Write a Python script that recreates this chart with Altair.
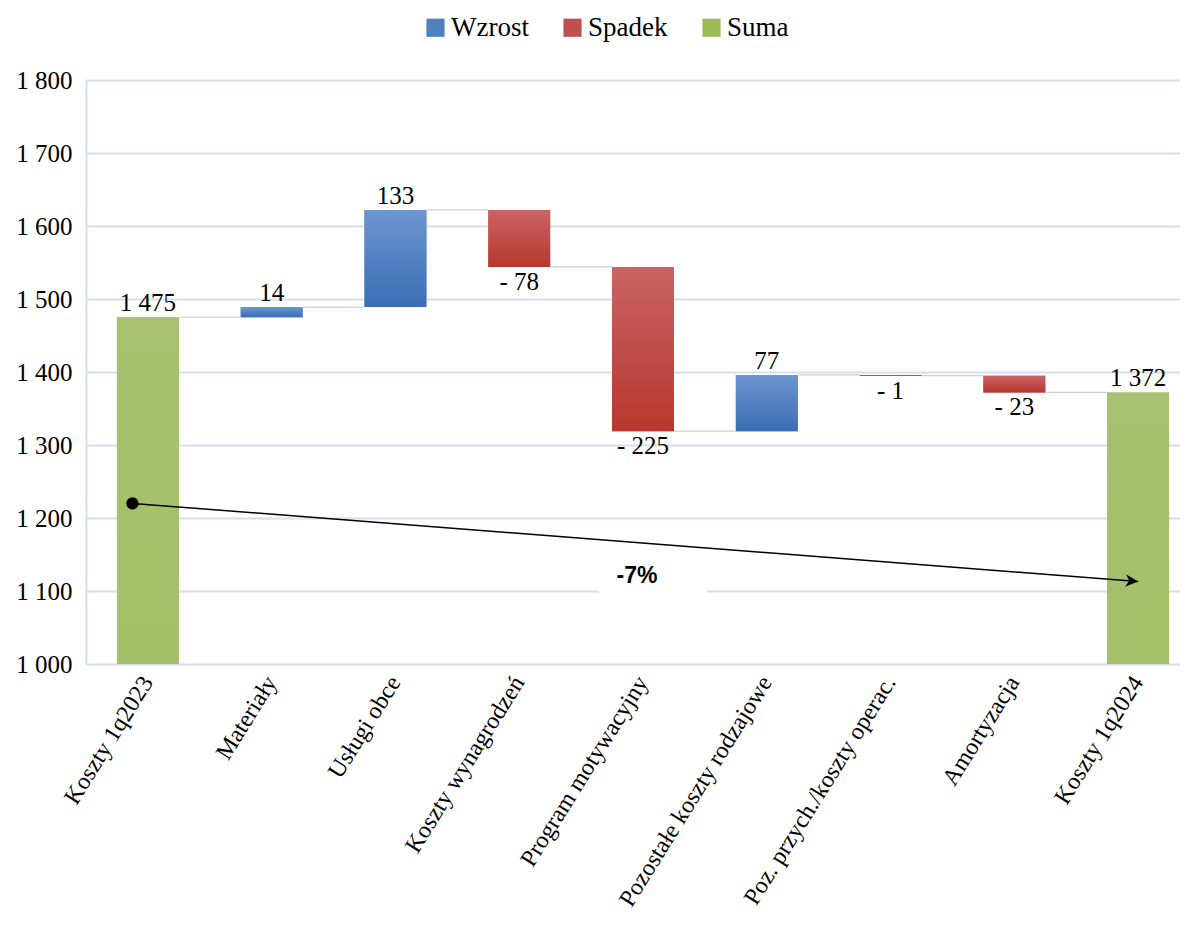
import altair as alt
import pandas as pd

# ---------------- data ----------------
categories = ["Koszty 1q2023", "Materiały", "Usługi obce", "Koszty wynagrodzeń",
              "Program motywacyjny", "Pozostałe koszty rodzajowe",
              "Poz. przych./koszty operac.", "Amortyzacja", "Koszty 1q2024"]
kinds = ["Suma", "Wzrost", "Wzrost", "Spadek", "Spadek", "Wzrost", "Spadek", "Spadek", "Suma"]
values = [1475, 14, 133, -78, -225, 77, -1, -23, 1372]

legend_order = ["Wzrost", "Spadek", "Suma"]
legend_colors = ["#4f81bd", "#c0504d", "#9bbb59"]
y_ticks = [1000, 1100, 1200, 1300, 1400, 1500, 1600, 1700, 1800]

arrow_from = 1220
arrow_to = 1113
change_label = "-7%"
label_box = [1095, 1145]
label_cat = "Program motywacyjny"

# ---------------- derived table ----------------
rows = []
running = 0
for c, k, v in zip(categories, kinds, values):
    if k == "Suma":
        start, end = 0, v
        running = v
    else:
        start, end = running, running + v
        running = end
    txt = f"{abs(v):,}".replace(",", " ")
    if v < 0:
        txt = "- " + txt
    rows.append(dict(cat=c, kind=k, start=start, end=end,
                     lo=min(start, end), hi=max(start, end),
                     label=txt, up=v >= 0))
df = pd.DataFrame(rows)

conn = pd.DataFrame([
    dict(cat=categories[i], cat_next=categories[i + 1], level=rows[i]["end"])
    for i in range(len(categories) - 1)
])
arrow = pd.DataFrame([dict(cat=categories[0], cat_next=categories[-1],
                           y=arrow_from, y2=arrow_to)])
arrow_end = pd.DataFrame([dict(cat=categories[-1], y=arrow_to)])
arrow_start = pd.DataFrame([dict(cat=categories[0], y=arrow_from)])
note = pd.DataFrame([dict(cat=label_cat, y=label_box[0], y2=label_box[1],
                          ym=(label_box[0] + label_box[1]) / 2, text=change_label)])

SERIF = "Liberation Serif"
GRID = "#d5e0ef"

xscale = alt.Scale(domain=categories, range=[0, 1114], paddingInner=0.5, paddingOuter=0.25)
yscale = alt.Scale(domain=[1000, 1800], nice=False, zero=False)

xaxis = alt.Axis(title=None, labelAngle=-58, labelAlign="right", labelBaseline="middle",
                 labelFont=SERIF, labelFontSize=24, labelColor="black", labelPadding=14,
                 labelLimit=500, domain=False, ticks=False, grid=False)
yaxis = alt.Axis(title=None, values=y_ticks,
                 labelExpr="replace(format(datum.value, ','), ',', ' ')",
                 labelFont=SERIF, labelFontSize=25, labelColor="black", labelPadding=14,
                 ticks=False, domain=True, domainColor=GRID, domainWidth=2,
                 grid=True, gridColor=GRID, gridWidth=2)

X = alt.X("cat:N", scale=xscale, axis=xaxis, sort=categories)


def grad(top, bottom):
    return alt.Gradient(gradient="linear", x1=0, x2=0, y1=0, y2=1,
                        stops=[alt.GradientStop(color=top, offset=0),
                               alt.GradientStop(color=bottom, offset=1)])


gradients = {
    "Wzrost": grad("#6d96cf", "#3a6db4"),
    "Spadek": grad("#c96464", "#b7372f"),
    "Suma": grad("#a8c070", "#9bc052"),
}

base = alt.Chart(df)

legend_bars = base.mark_bar(clip=True).encode(
    x=X,
    y=alt.Y("start:Q", scale=yscale, axis=yaxis),
    y2="end:Q",
    color=alt.Color("kind:N", scale=alt.Scale(domain=legend_order, range=legend_colors),
                    legend=alt.Legend(title=None, orient="none", direction="horizontal",
                                      legendX=336, legendY=-66, symbolType="square",
                                      symbolSize=330, symbolStrokeWidth=0,
                                      labelFont=SERIF, labelFontSize=27, labelColor="black",
                                      labelOffset=2, columnPadding=30)),
)

grad_layers = [
    base.transform_filter(alt.datum.kind == k).mark_bar(clip=True, fill=gradients[k]).encode(
        x=X, y=alt.Y("start:Q", scale=yscale), y2="end:Q")
    for k in legend_order
]

connectors = alt.Chart(conn).mark_rule(color="#cfcfcf", strokeWidth=1.2).encode(
    x=alt.X("cat:N", scale=xscale, bandPosition=1),
    x2=alt.X2("cat_next:N", bandPosition=0),
    y=alt.Y("level:Q", scale=yscale),
)

labels_up = base.transform_filter(alt.datum.up).mark_text(
    font=SERIF, fontSize=25, color="black", baseline="bottom", dy=-1).encode(
    x=X, y=alt.Y("hi:Q", scale=yscale), text="label:N")

labels_down = base.transform_filter(~alt.datum.up).mark_text(
    font=SERIF, fontSize=25, color="black", baseline="top", dy=3).encode(
    x=X, y=alt.Y("lo:Q", scale=yscale), text="label:N")

arrow_line = alt.Chart(arrow).mark_rule(color="black", strokeWidth=1.5).encode(
    x=alt.X("cat:N", scale=xscale, bandPosition=0.25),
    x2=alt.X2("cat_next:N", bandPosition=0.5),
    y=alt.Y("y:Q", scale=yscale),
    y2="y2:Q",
)

arrow_head = alt.Chart(arrow_end).mark_point(
    shape="M0,0L-1,-0.5L-0.7,0L-1,0.5Z", filled=True, color="black",
    size=640, angle=4.4, opacity=1).encode(
    x=alt.X("cat:N", scale=xscale, bandPosition=0.5),
    y=alt.Y("y:Q", scale=yscale),
)

arrow_dot = alt.Chart(arrow_start).mark_point(
    shape="circle", filled=True, color="black", size=150, opacity=1).encode(
    x=alt.X("cat:N", scale=xscale, bandPosition=0.25),
    y=alt.Y("y:Q", scale=yscale),
)

note_box = alt.Chart(note).mark_bar(color="white", width=108, xOffset=10).encode(
    x=alt.X("cat:N", scale=xscale),
    y=alt.Y("y:Q", scale=yscale),
    y2="y2:Q",
)
note_text = alt.Chart(note).mark_text(
    font="Liberation Sans Narrow, Liberation Sans", fontSize=23, fontWeight="bold",
    color="black", dx=-6).encode(
    x=alt.X("cat:N", scale=xscale),
    y=alt.Y("ym:Q", scale=yscale),
    text="text:N",
)

chart = alt.layer(
    legend_bars, *grad_layers, connectors, labels_up, labels_down,
    note_box, note_text, arrow_line, arrow_head, arrow_dot,
).properties(
    width=1094, height=584,
    autosize=alt.AutoSizeParams(type="none"),
    padding={"left": 78, "top": 72, "right": 0, "bottom": 270},
).configure(
    background="white", font=SERIF
).configure_view(stroke=None).configure_legend(labelFont=SERIF)

chart.save("out.html", embed_options={"renderer": "svg", "actions": False})
